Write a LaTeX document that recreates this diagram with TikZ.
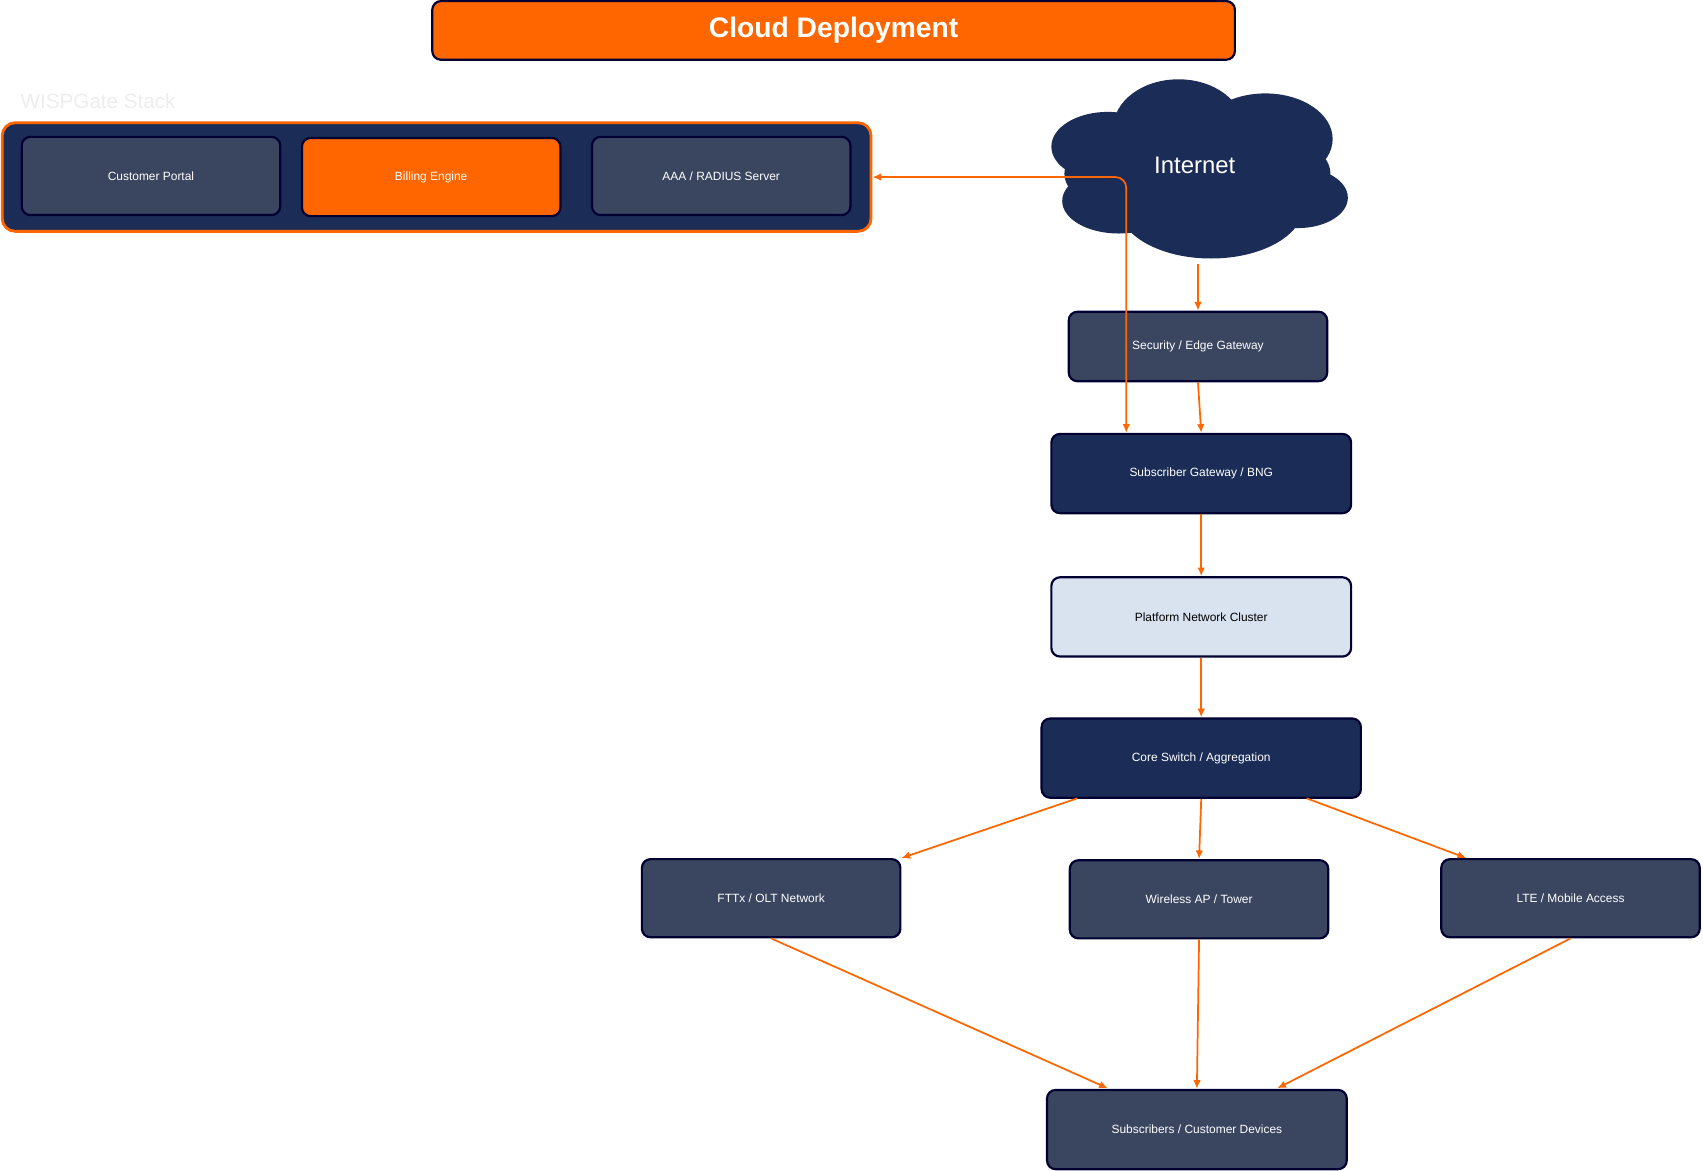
\documentclass[tikz,border=0pt]{standalone}
\usepackage{fontspec}
\setmainfont{Liberation Sans}
\begin{document}
\begin{tikzpicture}[x=0.5pt,y=-0.5pt,
 box/.style={draw=black!80!blue,line width=1pt,rounded corners=4pt,fill=slate,text=white,font=\fontsize{5.5}{6}\selectfont,inner sep=0pt},
 arr/.style={draw=orangeA,line width=0.8pt,-{Latex[length=4pt,width=3.5pt]}}]
\usetikzlibrary{arrows.meta}
\definecolor{orangeA}{HTML}{FF6600}
\definecolor{navy}{HTML}{1B2D57}
\definecolor{slate}{HTML}{3A4560}
\definecolor{pale}{HTML}{D9E3F0}
\useasboundingbox (0,0) rectangle (1568,1078);
\node[box,fill=orangeA,minimum width=369.5pt,minimum height=27pt,font=\bfseries\fontsize{13}{14}\selectfont] (title) at (767.5,28) {Cloud Deployment};
\node[anchor=west,text=black!7,font=\fontsize{9.5}{10}\selectfont] (lbl) at (12,93) {WISPGate Stack};
\node[box,fill=navy,draw=orangeA,line width=1.3pt,rounded corners=6pt,minimum width=400pt,minimum height=50pt] (stack) at (402,163) {};
\node[box,minimum width=119pt,minimum height=36pt] (cp) at (139,162) {Customer Portal};
\node[box,fill=orangeA,minimum width=119pt,minimum height=36pt] (be) at (397,163) {Billing Engine};
\node[box,minimum width=119pt,minimum height=36pt] (aaa) at (664,162) {AAA / RADIUS Server};
% cloud
\begin{scope}[fill=navy]
\fill (1020,135) ellipse [x radius=52,y radius=32];
\fill (1085,118) ellipse [x radius=60,y radius=45];
\fill (1165,128) ellipse [x radius=62,y radius=42];
\fill (1195,182) ellipse [x radius=46,y radius=28];
\fill (1030,185) ellipse [x radius=52,y radius=30];
\fill (1115,190) ellipse [x radius=85,y radius=48];
\fill (1060,160) ellipse [x radius=80,y radius=40];
\fill (1150,160) ellipse [x radius=75,y radius=40];
\end{scope}
\node[text=white,font=\fontsize{11}{12}\selectfont] (inet) at (1100,152) {Internet};
\coordinate (cb) at (1103,243);
\node[box,minimum width=119pt,minimum height=32pt] (sec) at (1103,319) {Security / Edge Gateway};
\node[box,fill=navy,minimum width=138pt,minimum height=36.5pt] (bng) at (1106,436) {Subscriber Gateway / BNG};
\node[box,fill=pale,text=black,minimum width=138pt,minimum height=36.5pt] (pnc) at (1106,568) {Platform Network Cluster};
\node[box,fill=navy,minimum width=147pt,minimum height=36.5pt] (core) at (1106,698) {Core Switch / Aggregation};
\node[box,minimum width=119pt,minimum height=36pt] (ftt) at (710,827) {FTTx / OLT Network};
\node[box,minimum width=119pt,minimum height=36pt] (wap) at (1104,828) {Wireless AP / Tower};
\node[box,minimum width=119pt,minimum height=36pt] (lte) at (1446,827) {LTE / Mobile Access};
\node[box,minimum width=138pt,minimum height=36.5pt] (sub) at (1102,1040) {Subscribers / Customer Devices};
\draw[arr] (cb) -- (sec.north);
\draw[arr] (sec.south) -- (bng.north);
\draw[draw=orangeA,line width=0.8pt,{Latex[length=4pt,width=3.5pt]}-{Latex[length=4pt,width=3.5pt]},rounded corners=5pt] (stack.east) -- (1037,163) -- (bng.north -| 1037,0);
\draw[arr] (bng.south) -- (pnc.north);
\draw[arr] (pnc.south) -- (core.north);
\draw[arr] (992,735) -- (ftt.north east);
\draw[arr] (core.south) -- (wap.north);
\draw[arr] (1203,735) -- (1350,790);
\draw[arr] (ftt.south) -- (1020,1002);
\draw[arr] (wap.south) -- (sub.north);
\draw[arr] (lte.south) -- (1176,1002);
\end{tikzpicture}
\end{document}
